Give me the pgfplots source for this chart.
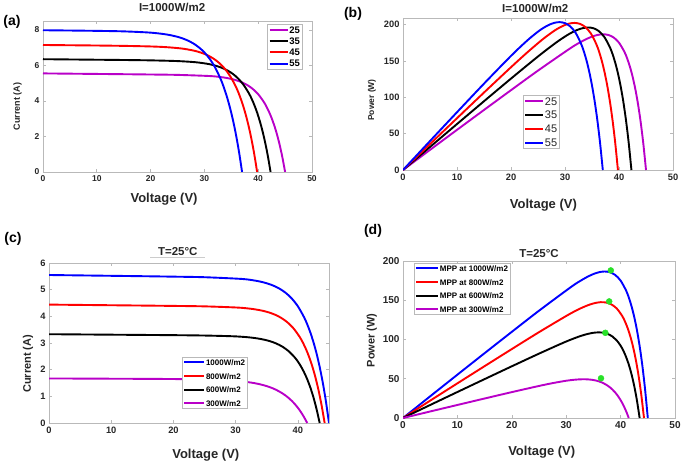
\documentclass[border=0pt]{standalone}
\usepackage{pgfplots}
\pgfplotsset{compat=1.18}
\usepackage{pgfplotstable}
\usepackage{fontspec}
\setmainfont{Liberation Sans}

\definecolor{axgray}{RGB}{38,38,38}
\definecolor{mpur}{RGB}{185,0,200}
\definecolor{mblue}{RGB}{0,0,255}
\definecolor{mred}{RGB}{255,0,0}
\definecolor{mgreen}{RGB}{40,225,40}
\newcommand{\fs}[1]{\fontsize{#1}{#1}\selectfont}

% I-V data, T varies (I=1000W/m2)
\pgfplotstableread{
V I
0 5.55
5 5.535
10 5.52
15 5.505
20 5.488
25 5.467
31 5.402
33 5.344
34 5.300
35 5.240
36 5.157
37 5.044
38 4.888
39 4.673
40 4.376
41 3.964
41.5 3.703
42 3.395
42.5 3.033
43 2.607
43.5 2.105
44 1.515
44.5 0.819
45 0
}\tA
\pgfplotstableread{
V I
0 6.35
5 6.335
10 6.32
15 6.305
20 6.284
25 6.244
28.3 6.181
30.3 6.103
31.3 6.044
32.3 5.965
33.3 5.858
34.3 5.714
35.3 5.520
36.3 5.256
37.3 4.898
38.3 4.414
38.8 4.110
39.3 3.756
39.8 3.343
40.3 2.862
40.8 2.302
41.3 1.649
41.8 0.888
42.3 0
}\tB
\pgfplotstableread{
V I
0 7.15
5 7.135
10 7.12
15 7.100
20 7.067
23 7.026
25.8 6.950
27.8 6.848
28.8 6.772
29.8 6.672
30.8 6.538
31.8 6.360
32.8 6.124
33.8 5.810
34.8 5.391
35.8 4.833
36.3 4.488
36.8 4.089
37.3 3.628
37.8 3.096
38.3 2.481
38.8 1.770
39.3 0.949
39.8 0
}\tC
\pgfplotstableread{
V I
0 7.98
5 7.964
10 7.945
15 7.916
20 7.845
23 7.740
25 7.610
26 7.514
27 7.389
28 7.225
29 7.011
30 6.731
31 6.363
32 5.881
33 5.247
33.5 4.860
34 4.416
34.5 3.906
35 3.322
35.5 2.653
36 1.887
36.5 1.007
37 0
}\tD
% I-V data, irradiance varies (T=25C); 1000W/m2 is \tA
\pgfplotstableread{
V I
0 4.44
5 4.428
10 4.416
15 4.404
20 4.391
25 4.374
30.3 4.329
32.3 4.288
33.3 4.255
34.3 4.211
35.3 4.149
36.3 4.064
37.3 3.945
38.3 3.779
39.3 3.548
40.3 3.224
40.8 3.016
41.3 2.771
41.8 2.480
42.3 2.136
42.8 1.729
43.3 1.247
43.8 0.676
44.3 0
}\tE
\pgfplotstableread{
V I
0 3.33
5 3.321
10 3.312
15 3.303
20 3.294
25 3.280
29.5 3.253
31.5 3.225
32.5 3.203
33.5 3.172
34.5 3.129
35.5 3.069
36.5 2.984
37.5 2.865
38.5 2.696
39.5 2.458
40 2.304
40.5 2.120
41 1.901
41.5 1.642
42 1.332
42.5 0.963
43 0.523
43.5 0
}\tF
\pgfplotstableread{
V I
0 1.67
5 1.666
10 1.661
15 1.656
20 1.649
25 1.633
27.5 1.615
29.5 1.590
30.5 1.572
31.5 1.547
32.5 1.515
33.5 1.473
34.5 1.417
35.5 1.343
36.5 1.245
37.5 1.114
38 1.034
38.5 0.941
39 0.835
39.5 0.712
40 0.570
40.5 0.406
41 0.217
41.5 0
}\tG

\pgfplotsset{
  every axis title shift=0pt,
  panel/.style={
    scale only axis, anchor=south west,
    axis line style={gray!55, line width=0.6pt},
    tick style={gray!55, line width=0.6pt},
    tick align=inside, major tick length=3pt,
    /pgf/number format/assume math mode=true,
    every tick label/.append style={text=axgray},
    title style={anchor=center, text=axgray, font=\fs{11.5}\bfseries},
    xlabel style={anchor=center, text=axgray, font=\fs{13}\bfseries},
    ylabel style={anchor=center, text=axgray},
    legend cell align=left,
    legend style={draw=gray!55, line width=0.5pt, fill=white, inner sep=1pt,
      nodes={inner sep=0.8pt, text depth=0pt}},
  },
  crv/.style={line width=1.9pt, smooth, no markers},
}

\begin{document}
\begin{tikzpicture}
\useasboundingbox (0pt,0pt) rectangle (685pt,464pt);

% (a)
\begin{axis}[panel, at={(43pt,292pt)}, width=269pt, height=151pt,
  xmin=0, xmax=50, ymin=0, ymax=8.5,
  xtick={0,10,...,50}, ytick={0,2,...,8},
  ticklabel style={font=\fs{8.5}\bfseries},
  title={I=1000W/m2}, title style={at={(axis description cs:0.48,1.09)}},
  xlabel={Voltage (V)}, xlabel style={at={(axis description cs:0.45,-0.18)}},
  ylabel={Current (A)}, ylabel style={at={(axis description cs:-0.095,0.435)}, font=\fs{9}\bfseries},
  legend style={at={(axis description cs:0.963,0.978)}, anchor=north east,
    font=\fs{9.5}\bfseries, row sep=3pt, nodes={text height=6.7pt}},
  legend image code/.code={\draw[#1, line width=2pt] (0pt,0pt) -- (18pt,0pt);},
]
\addplot[crv, mpur] table[x=V, y=I] {\tA};
\addplot[crv, black] table[x=V, y=I] {\tB};
\addplot[crv, mred] table[x=V, y=I] {\tC};
\addplot[crv, mblue] table[x=V, y=I] {\tD};
\legend{25,35,45,55}
\end{axis}

% (b)
\begin{axis}[panel, at={(403pt,294pt)}, width=270pt, height=152pt,
  xmin=0, xmax=50, ymin=0, ymax=209,
  xtick={0,10,...,50}, ytick={0,50,...,200},
  ticklabel style={font=\fs{9.3}\bfseries},
  title={I=1000W/m2}, title style={at={(axis description cs:0.49,1.06)}},
  xlabel={Voltage (V)}, xlabel style={at={(axis description cs:0.52,-0.23)}},
  ylabel={Power (W)}, ylabel style={at={(axis description cs:-0.115,0.46)}, font=\fs{8.5}\bfseries},
  legend style={at={(axis description cs:0.444,0.493)}, anchor=north west,
    font=\fs{11}, text=axgray, row sep=4.2pt, nodes={text height=8pt}},
  legend image code/.code={\draw[#1, line width=2pt] (0pt,0pt) -- (18pt,0pt);},
]
\addplot[crv, mpur] table[x=V, y expr=\thisrow{V}*\thisrow{I}] {\tA};
\addplot[crv, black] table[x=V, y expr=\thisrow{V}*\thisrow{I}] {\tB};
\addplot[crv, mred] table[x=V, y expr=\thisrow{V}*\thisrow{I}] {\tC};
\addplot[crv, mblue] table[x=V, y expr=\thisrow{V}*\thisrow{I}] {\tD};
\legend{25,35,45,55}
\end{axis}

% (c)
\begin{axis}[panel, at={(49pt,41pt)}, width=280pt, height=160pt,
  xmin=0, xmax=45, ymin=0, ymax=6,
  xtick={0,10,...,40}, ytick={0,1,...,6},
  ticklabel style={font=\fs{9.3}\bfseries},
  title={T=25°C}, title style={at={(axis description cs:0.46,1.07)}},
  xlabel={Voltage (V)}, xlabel style={at={(axis description cs:0.56,-0.20)}},
  ylabel={Current (A)}, ylabel style={at={(axis description cs:-0.075,0.37)}, font=\fs{11}\bfseries},
  legend style={at={(axis description cs:0.475,0.41)}, anchor=north west,
    font=\fs{8}\bfseries, row sep=6pt, nodes={text height=6pt}},
  legend image code/.code={\draw[#1, line width=2pt] (0pt,0pt) -- (20pt,0pt);},
]
\addplot[crv, mblue] table[x=V, y=I] {\tA};
\addplot[crv, mred] table[x=V, y=I] {\tE};
\addplot[crv, black] table[x=V, y=I] {\tF};
\addplot[crv, mpur] table[x=V, y=I] {\tG};
\legend{1000W/m2,800W/m2,600W/m2,300W/m2}
\end{axis}
\draw[gray!40, line width=0.5pt] (150pt,207pt) -- (205pt,207pt);

% (d)
\begin{axis}[panel, at={(403pt,46pt)}, width=272pt, height=157pt,
  xmin=0, xmax=50, ymin=0, ymax=200,
  xtick={0,10,...,50}, ytick={0,50,...,200},
  ticklabel style={font=\fs{10}\bfseries},
  title={T=25°C}, title style={at={(axis description cs:0.50,1.05)}},
  xlabel={Voltage (V)}, xlabel style={at={(axis description cs:0.51,-0.22)}},
  ylabel={Power (W)}, ylabel style={at={(axis description cs:-0.115,0.495)}, font=\fs{11}\bfseries},
  legend style={at={(axis description cs:0.04,0.985)}, anchor=north west,
    font=\fs{8}\bfseries, row sep=6pt, nodes={text height=6pt}},
  legend image code/.code={\draw[#1, line width=2pt] (0pt,0pt) -- (22pt,0pt);},
]
\addplot[crv, mblue] table[x=V, y expr=\thisrow{V}*\thisrow{I}] {\tA};
\addplot[crv, mred] table[x=V, y expr=\thisrow{V}*\thisrow{I}] {\tE};
\addplot[crv, black] table[x=V, y expr=\thisrow{V}*\thisrow{I}] {\tF};
\addplot[crv, mpur] table[x=V, y expr=\thisrow{V}*\thisrow{I}] {\tG};
\addplot[only marks, mark=*, mark size=3pt, color=mgreen, forget plot]
  coordinates {(38.2,188) (37.9,148.5) (37.2,108.5) (36.4,50.6)};
\legend{MPP at 1000W/m2,MPP at 800W/m2,MPP at 600W/m2,MPP at 300W/m2}
\end{axis}

\node[font=\fs{14}\bfseries] at (12pt,442pt) {(a)};
\node[font=\fs{14}\bfseries] at (353pt,450pt) {(b)};
\node[font=\fs{14}\bfseries] at (13pt,225pt) {(c)};
\node[font=\fs{14}\bfseries] at (373pt,233pt) {(d)};
\end{tikzpicture}
\end{document}
